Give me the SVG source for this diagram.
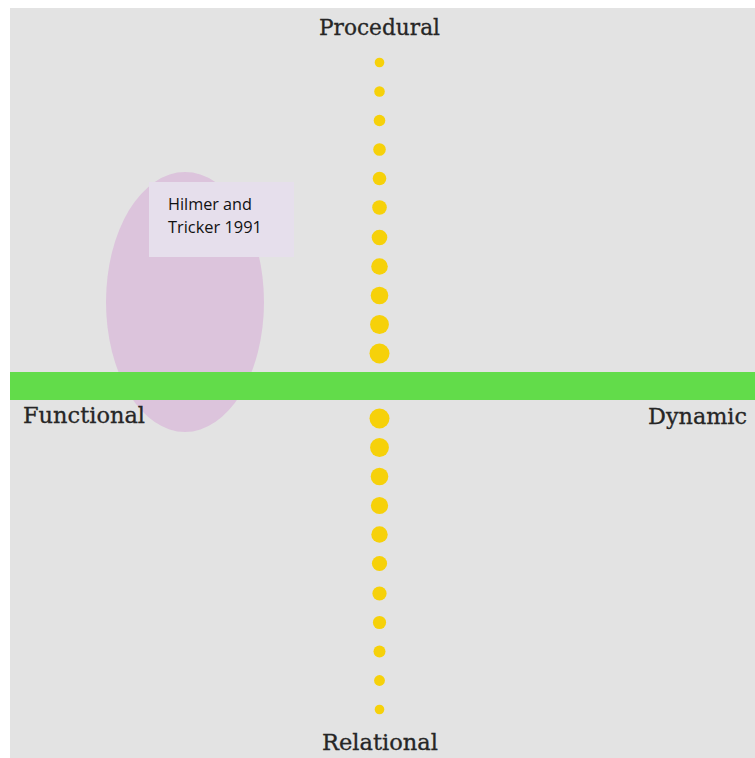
<svg xmlns="http://www.w3.org/2000/svg" width="755" height="758" viewBox="0 0 755 758">
<style>
.axis{font-family:"DejaVu Serif","Liberation Serif",serif;font-size:21.5px;fill:#262626;stroke:#262626;stroke-width:0.3}
.note{font-family:"Open Sans","Liberation Sans",sans-serif;font-size:15.5px;fill:#111}
.dot{fill:#f6d10a}
</style>
<rect x="0" y="0" width="755" height="758" fill="#ffffff"/>
<rect x="10" y="8" width="745" height="750" fill="#e3e3e3"/>
<g id="ellipse-hilmer">
<ellipse cx="185" cy="302" rx="79" ry="130" fill="#dcc4dc"/>
</g>
<g id="connectors">
<rect x="10" y="372" width="745" height="28" fill="#62dc4a"/>
<g id="dots">
<circle class="dot" cx="379.5" cy="62.5" r="4.8"/>
<circle class="dot" cx="379.5" cy="91.5" r="5.3"/>
<circle class="dot" cx="379.5" cy="120.5" r="5.8"/>
<circle class="dot" cx="379.5" cy="149.5" r="6.3"/>
<circle class="dot" cx="379.5" cy="178.5" r="6.8"/>
<circle class="dot" cx="379.5" cy="207.5" r="7.3"/>
<circle class="dot" cx="379.5" cy="237.5" r="7.8"/>
<circle class="dot" cx="379.5" cy="266.5" r="8.3"/>
<circle class="dot" cx="379.5" cy="295.5" r="8.8"/>
<circle class="dot" cx="379.5" cy="324.5" r="9.4"/>
<circle class="dot" cx="379.5" cy="353.5" r="10"/>
<circle class="dot" cx="379.5" cy="418.5" r="10"/>
<circle class="dot" cx="379.5" cy="447.5" r="9.4"/>
<circle class="dot" cx="379.5" cy="476.5" r="8.8"/>
<circle class="dot" cx="379.5" cy="505.5" r="8.6"/>
<circle class="dot" cx="379.5" cy="534.5" r="8.2"/>
<circle class="dot" cx="379.5" cy="563.5" r="7.6"/>
<circle class="dot" cx="379.5" cy="593.5" r="7.1"/>
<circle class="dot" cx="379.5" cy="622.5" r="6.6"/>
<circle class="dot" cx="379.5" cy="651.5" r="6"/>
<circle class="dot" cx="379.5" cy="680.5" r="5.4"/>
<circle class="dot" cx="379.5" cy="709.5" r="4.8"/>
</g>
</g>
<g id="note-hilmer">
<rect x="149" y="182" width="145" height="75" fill="#e6dfec"/>
<text class="note" x="168" y="210" textLength="84" lengthAdjust="spacingAndGlyphs">Hilmer and</text>
<text class="note" x="168" y="233" textLength="94" lengthAdjust="spacingAndGlyphs">Tricker 1991</text>
</g>
<g id="label-procedural"><text class="axis" x="319" y="35" textLength="121" lengthAdjust="spacingAndGlyphs">Procedural</text></g>
<g id="label-functional"><text class="axis" x="23" y="423" textLength="122" lengthAdjust="spacingAndGlyphs">Functional</text></g>
<g id="label-dynamic"><text class="axis" x="648" y="424" textLength="99" lengthAdjust="spacingAndGlyphs">Dynamic</text></g>
<g id="label-relational"><text class="axis" x="322" y="750" textLength="116" lengthAdjust="spacingAndGlyphs">Relational</text></g>
</svg>
